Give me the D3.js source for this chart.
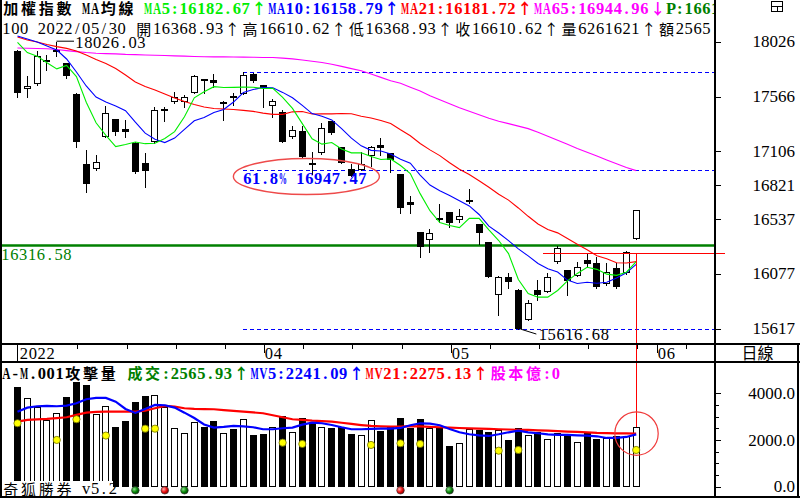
<!DOCTYPE html>
<html>
<head>
<meta charset="utf-8">
<script src="https://cdn.jsdelivr.net/npm/d3@7/dist/d3.min.js"></script>
<style>
html, body { margin: 0; padding: 0; background: #fff; overflow: hidden; }
svg { display: block; }
</style>
</head>
<body>
<svg id="chart" width="800" height="500"></svg>
<script>
// 加權指數 2022/02/24 - 2022/05/30
const opens  = [17948,17627,17669,17865,17950,17845,17587,16998,16956,17229,17375,17291,17179,17006,17182,17455,17518,17523,17595,17712,17705,17516,17570,17587,17755,17663,17489,17439,17224,17277,17010,17090,17361,17141,16956,16950,17068,17160,17090,16917,16679,16428,16363,16545,16595,16531,16690,16497,16344,15902,16051,15944,15692,15944,15930,16181,16112,16061,16196,16168,15992,16126,16084,16368.93];
const highs  = [17960,17738,17948,17915,18026.03,17850,17600,17118,17076,17487,17380,17369,17185,17090,17481,17481,17607,17579,17745,17714,17755,17525,17595,17770.06,17762,17665,17543,17453,17319,17319,17101,17347,17365,17145,17000,17104,17150,17216,17092,16920,16732,16430,16453,16665,16600,16621,16788,16500,16350,16060,16084,15950,15860,16028,16084,16313,16115,16181,16252,16223,16173,16168,16270,16610.62];
const lows   = [17565,17565,17660,17790,17910,17719,17146,16768,16950,17225,17244,17224,16923,16810,17180,17364,17515,17481,17592,17598,17649,17369,17495,17585,17690,17481,17392,17185,17220,17057,16917,17088,17250,17005,16900,16947,16986,17076,16933,16587,16587,16223,16265,16517,16475,16517,16671,16330,16050,15734,15958,15616.68,15690,15860,15928,16168,15902,16058,16139,15962,15988,15958,16080,16368.93];
const closes = [17598,17655,17906,17873,17958,17741,17188,16830,17015,17431,17271,17271,16936,16944,17453,17465,17560,17560,17738,17706,17682,17523,17565,17749,17699,17635,17529,17188,17286,17059,17000,17300,17258,17011,16902,17000,17146,17132,17034,16629,16657,16307,16419,16540,16503,16565,16700,16419,16056,16056,16014,15617,15832,15902,16056,16294,16022,16139,16162,15967,16097,15972,16265,16610.62];

const ma5  = [18020,17935,17905,17850,17798,17827,17733,17518,17346,17241,17147,17164,17185,17171,17175,17214,17272,17396,17555,17606,17649,17642,17643,17645,17644,17634,17635,17560,17467,17339,17212,17167,17181,17126,17094,17094,17063,17038,17043,16988,16920,16752,16609,16510,16485,16467,16545,16545,16449,16359,16249,16032,15915,15884,15884,15940,16021,16083,16135,16117,16077,16067,16093,16182.67];
const ma10 = [18073,18048,18023,17990,17956,17881,17772,17655,17562,17520,17487,17448,17351,17259,17208,17180,17218,17291,17363,17390,17432,17457,17520,17600,17625,17642,17639,17601,17556,17492,17423,17401,17370,17297,17217,17153,17115,17109,17084,17041,17007,16908,16824,16777,16737,16693,16649,16577,16480,16422,16358,16289,16230,16166,16122,16095,16027,15999,16009,16001,16009,16044,16088,16158.79];
const ma21 = [18065,18040,18023,18002,17985,17970,17948,17914,17877,17843,17801,17747,17688,17650,17621,17587,17554,17525,17500,17479,17466,17462,17458,17450,17442,17427,17417,17417,17438,17441,17420,17421,17421,17424,17422,17401,17386,17365,17340,17287,17237,17172,17119,17071,17011,16957,16913,16860,16806,16747,16698,16632,16562,16497,16452,16423,16376,16328,16282,16231,16206,16173,16171,16181.72];
const ma65 = [17973,17971,17969,17967,17960,17951,17943,17935,17929,17926,17924,17920,17918,17915,17913,17910,17907,17905,17902,17900,17899,17899,17898,17897,17896,17894,17893,17888,17882,17872,17862,17851,17837,17819,17800,17782,17755,17727,17699,17677,17645,17613,17573,17539,17506,17473,17443,17414,17384,17359,17339,17318,17297,17267,17234,17199,17166,17131,17099,17067,17035,17003,16971,16944.96];

// 攻擊量 (億)
const volumes = [4273,3788,3429,2859,3146,3845,4487,4359,3103,3459,2559,2816,3630,3887,3930,3403,2530,2301,2760,2559,2816,2287,2473,2902,2216,2259,2559,3030,2358,2945,2787,2545,2500,2571,2259,2202,2859,2400,2601,2944,2500,2900,2500,2500,1744,1860,2460,2430,2344,2430,2000,2500,2216,2358,2030,2287,2259,1900,2287,2044,2073,2187,2187,2565.93];
const mv5  = [3214,3386,3446,3459,3446,3471,3574,3746,3801,3801,3643,3330,3159,3330,3501,3489,3386,3171,2944,2666,2529,2559,2601,2580,2546,2460,2460,2503,2529,2657,2743,2717,2644,2546,2460,2460,2473,2486,2486,2516,2630,2716,2701,2630,2473,2330,2245,2202,2173,2245,2330,2401,2330,2288,2245,2216,2216,2202,2187,2159,2087,2087,2130,2241.09];
const mv21 = [2786,2859,2880,2902,2940,2974,3073,3171,3201,3214,3214,3214,3214,3257,3360,3459,3429,3360,3330,3320,3317,3280,3244,3214,3180,3146,3060,2974,2889,2860,2829,2810,2786,2740,2687,2640,2601,2586,2575,2571,2590,2580,2565,2545,2530,2515,2500,2490,2475,2460,2450,2440,2430,2415,2400,2380,2360,2345,2325,2305,2295,2285,2280,2275.13];
const dotIdx = [0,4,6,9,13,14,27,29,36,39,41,49,51,63];
const dotVol = [2717,2002,2889,2190,2486,2486,1886,1830,1787,1860,1830,1543,1573,1573];
const greenBallIdx = [12,17,44];
const redBallIdx = [15,39];

const priceTicks = [18026,17566,17106,16821,16537,16077,15617];
const volTicks = [0,500,1000,1500,2000,2500,3000,3500,4000];
const volLabels = [4000,2000,0];
const monthIdx = [0,25,44,65];
const monthLabels = ['2022','04','05','06'];
const weekIdx = [6,11,16,21,29,34,39,48,53,58,63,68];

const fibFrom = 23;
const fibLevels = [17770.06,16947.47,15616.68];
const fibLabel = '61.8% 16947.47';
const hLine = 16316.58;
const cursorPrice = 16252, cursorIdx = 63, cursorFrom = 53.5, cursorTo = 72;

const CW = 8.86;
const LAT = "'Liberation Serif','DejaVu Serif',serif";
const CJK = "'Noto Sans CJK TC','Noto Sans CJK SC',sans-serif";
const GREEN = '#00ee00', BLUE = '#0000ff', RED = '#ff0000', MAG = '#ff00ff', DKGREEN = '#008000';

class kChart {
  constructor(){
    this.svg;
    this.x;
    this.y;
    this.yv;
    this.data;
  }
  init(element){
    let $this = this;
    $this.svg  = d3.select(element);
    $this.x    = d3.scaleLinear().domain([0, 63]).range([17.5, 636.2]);
    $this.y    = d3.scaleLinear().domain([15617, 18026]).range([329, 41.7]);
    $this.yv   = d3.scaleLinear().domain([0, 4000]).range([486.7, 393.3]);
    $this.data = opens.map((o, i) => ({i: i, o: o, h: highs[i], l: lows[i], c: closes[i], v: volumes[i]}));

    let defs = $this.svg.append('defs');
    defs.append('clipPath').attr('id', 'clipTop').append('rect')
      .attr('x', 2).attr('y', 0).attr('width', 712).attr('height', 343);
    defs.append('clipPath').attr('id', 'clipVol').append('rect')
      .attr('x', 2).attr('y', 363).attr('width', 712).attr('height', 133);
    [['ballG', '#8fe08f', '#0a8a0a', '#003c00'], ['ballR', '#ffb0b0', '#ee1010', '#7a0000']].forEach(b => {
      let gr = defs.append('radialGradient').attr('id', b[0]).attr('cx', '35%').attr('cy', '35%').attr('r', '70%');
      gr.append('stop').attr('offset', '0%').attr('stop-color', b[1]);
      gr.append('stop').attr('offset', '55%').attr('stop-color', b[2]);
      gr.append('stop').attr('offset', '100%').attr('stop-color', b[3]);
    });
  }
  // monospaced cell layout like the terminal font: half width = 1 cell, CJK/arrows = 2 cells
  cells(g, x0, y, segs, weight){
    let pos = 0, items = [];
    segs.forEach(s => {
      Array.from(s[0]).forEach(ch => {
        let wide = ch.charCodeAt(0) > 0x2000;
        items.push({ch: ch, c: s[1], p: pos, wide: wide});
        pos += wide ? 2 : 1;
      });
    });
    g.append('g').selectAll('text')
      .data(items.filter(d => d.ch !== ' '))
      .join('text')
      .attr('x', d => x0 + (d.p + (d.wide ? 1 : 0.5)) * CW)
      .attr('y', d => d.wide ? y + 0.6 : y)
      .attr('text-anchor', 'middle')
      .attr('font-family', d => d.wide ? CJK : LAT)
      .attr('font-size', d => d.wide ? 15 : 16.5)
      .attr('font-weight', weight || 'normal')
      .attr('fill', d => d.c)
      .attr('textLength', d => /[MAVW%]/.test(d.ch) ? 8.2 : null)
      .attr('lengthAdjust', 'spacingAndGlyphs')
      .text(d => d.ch);
  }
  price(){
    let $this = this, x = $this.x, y = $this.y;
    let g = $this.svg.append('g').attr('clip-path', 'url(#clipTop)');

    g.append('g').selectAll('line').data(fibLevels).join('line')
      .attr('x1', x(fibFrom)).attr('x2', 715)
      .attr('y1', d => Math.round(y(d)) + 0.5).attr('y2', d => Math.round(y(d)) + 0.5)
      .attr('stroke', BLUE).attr('stroke-dasharray', '4,3').attr('shape-rendering', 'crispEdges');

    g.append('line')
      .attr('x1', 2).attr('x2', 715).attr('y1', y(hLine)).attr('y2', y(hLine))
      .attr('stroke', DKGREEN).attr('stroke-width', 2.5);

    let bx = i => Math.round(x(i) - 3.5);
    let cg = g.append('g').attr('shape-rendering', 'crispEdges');
    cg.selectAll('line.wick').data($this.data).join('line')
      .attr('class', 'wick')
      .attr('x1', d => bx(d.i) + 3.5).attr('x2', d => bx(d.i) + 3.5)
      .attr('y1', d => Math.round(y(d.h))).attr('y2', d => Math.round(y(d.l)) + 1)
      .attr('stroke', '#000');
    cg.selectAll('rect.body').data($this.data.filter(d => Math.round(y(Math.min(d.o, d.c))) - Math.round(y(Math.max(d.o, d.c))) >= 2)).join('rect')
      .attr('class', 'body')
      .attr('x', d => d.c >= d.o ? bx(d.i) + 0.5 : bx(d.i))
      .attr('y', d => Math.round(y(Math.max(d.o, d.c))) + (d.c >= d.o ? 0.5 : 0))
      .attr('width', d => d.c >= d.o ? 6 : 7)
      .attr('height', d => Math.round(y(Math.min(d.o, d.c))) - Math.round(y(Math.max(d.o, d.c))) - (d.c >= d.o ? 1 : 0))
      .attr('fill', d => d.c >= d.o ? '#fff' : '#000')
      .attr('stroke', d => d.c >= d.o ? '#000' : 'none');
    cg.selectAll('rect.doji').data($this.data.filter(d => Math.round(y(Math.min(d.o, d.c))) - Math.round(y(Math.max(d.o, d.c))) < 2)).join('rect')
      .attr('class', 'doji')
      .attr('x', d => bx(d.i))
      .attr('y', d => Math.round(y(Math.max(d.o, d.c))))
      .attr('width', 7)
      .attr('height', 2)
      .attr('fill', '#000');

    let line = d3.line().x((d, i) => x(i)).y(d => y(d));
    [[ma65, MAG], [ma21, RED], [ma10, BLUE], [ma5, GREEN]].forEach(m => {
      g.append('path').attr('d', line(m[0])).attr('fill', 'none').attr('stroke', m[1]).attr('stroke-width', 1.1);
    });

    // highest / lowest marks
    let hiI = highs.indexOf(d3.max(highs)), loI = lows.indexOf(d3.min(lows));
    g.append('path')
      .attr('d', 'M' + (bx(hiI) + 3.5) + ',' + (y(highs[hiI]) - 0.5) + 'H' + (bx(hiI) + 21))
      .attr('stroke', '#000').attr('fill', 'none');
    $this.cells($this.svg, bx(hiI) + 22, y(highs[hiI]) + 6, [[highs[hiI].toFixed(2), '#000']]);
    g.append('path')
      .attr('d', 'M' + (x(loI) + 2) + ',' + y(lows[loI]) + 'L' + (x(loI) + 18) + ',' + (y(lows[loI]) + 5))
      .attr('stroke', '#000').attr('fill', 'none');
    $this.cells($this.svg, x(loI) + 20, y(lows[loI]) + 11, [[lows[loI].toFixed(2), '#000']]);

    $this.cells($this.svg, 1, y(hLine) + 14.5, [[hLine.toFixed(2), DKGREEN]]);

    $this.cells($this.svg, x(fibFrom) - 0.5, y(fibLevels[1]) + 13.3, [[fibLabel, BLUE]], 'bold');
    $this.svg.append('ellipse')
      .attr('cx', x(fibFrom) + 63).attr('cy', y(fibLevels[1]) + 6.2)
      .attr('rx', 73).attr('ry', 18)
      .attr('fill', 'none').attr('stroke', '#ee4a4a').attr('stroke-width', 1.4);

    // cursor
    $this.svg.append('line')
      .attr('x1', x(cursorFrom)).attr('x2', x(cursorTo))
      .attr('y1', Math.round(y(cursorPrice)) + 0.5).attr('y2', Math.round(y(cursorPrice)) + 0.5)
      .attr('stroke', RED).attr('shape-rendering', 'crispEdges');
    $this.svg.append('line')
      .attr('x1', bx(cursorIdx) + 3.5).attr('x2', bx(cursorIdx) + 3.5)
      .attr('y1', y(cursorPrice)).attr('y2', $this.yv(volumes[cursorIdx]))
      .attr('stroke', RED).attr('shape-rendering', 'crispEdges');
  }
  volume(){
    let $this = this, x = $this.x, yv = $this.yv;
    let g = $this.svg.append('g').attr('clip-path', 'url(#clipVol)');
    let bx = i => Math.round(x(i) - 3.5);
    let base = Math.round(yv(0));
    g.append('g').attr('shape-rendering', 'crispEdges')
      .selectAll('rect').data($this.data).join('rect')
      .attr('x', d => d.c >= d.o ? bx(d.i) + 0.5 : bx(d.i))
      .attr('y', d => Math.round(yv(d.v)) + (d.c >= d.o ? 0.5 : 0))
      .attr('width', d => d.c >= d.o ? 6 : 7)
      .attr('height', d => base - Math.round(yv(d.v)) - (d.c >= d.o ? 1 : 0))
      .attr('fill', d => d.c >= d.o ? '#fff' : '#000')
      .attr('stroke', d => d.c >= d.o ? '#000' : 'none');

    let line = d3.line().x((d, i) => x(i)).y(d => yv(d));
    [[mv21, RED], [mv5, BLUE]].forEach(m => {
      g.append('path').attr('d', line(m[0])).attr('fill', 'none').attr('stroke', m[1]).attr('stroke-width', 2.2);
    });

    g.append('g').selectAll('circle').data(dotIdx).join('circle')
      .attr('cx', d => x(d)).attr('cy', (d, k) => yv(dotVol[k])).attr('r', 3.6)
      .attr('fill', '#ffff00').attr('stroke', '#6e6e00').attr('stroke-width', 0.8);

    // label box at bottom left
    $this.svg.append('rect').attr('x', 2).attr('y', 481).attr('width', 111).attr('height', 14.5).attr('fill', '#fff');
    $this.cells($this.svg, 2, 494, [['奇狐勝券 v5.2', '#000']]);

    g.append('g').selectAll('circle').data(greenBallIdx.map(i => [i, 'ballG']).concat(redBallIdx.map(i => [i, 'ballR']))).join('circle')
      .attr('cx', d => x(d[0])).attr('cy', yv(0) + 3.6).attr('r', 3.8)
      .attr('fill', d => 'url(#' + d[1] + ')').attr('stroke', '#333').attr('stroke-width', 0.6);

    $this.svg.append('circle')
      .attr('cx', bx(cursorIdx) + 3.5).attr('cy', yv(mv21[cursorIdx]))
      .attr('r', 21.7).attr('fill', 'none').attr('stroke', '#f03a3a').attr('stroke-width', 1.2);
  }
  axes(){
    let $this = this, svg = $this.svg, x = $this.x;
    let fr = svg.append('g').attr('stroke', '#000').attr('shape-rendering', 'crispEdges');
    fr.append('line').attr('x1', 1).attr('x2', 1).attr('y1', 0).attr('y2', 497).attr('stroke-width', 2);
    fr.append('line').attr('x1', 715).attr('x2', 715).attr('y1', 0).attr('y2', 497).attr('stroke-width', 2);
    fr.append('line').attr('x1', 798).attr('x2', 798).attr('y1', 343).attr('y2', 497).attr('stroke-width', 2);
    fr.append('line').attr('x1', 0).attr('x2', 800).attr('y1', 344).attr('y2', 344).attr('stroke-width', 2);
    fr.append('line').attr('x1', 0).attr('x2', 800).attr('y1', 362).attr('y2', 362).attr('stroke-width', 2);
    fr.append('line').attr('x1', 0).attr('x2', 800).attr('y1', 496.5).attr('y2', 496.5).attr('stroke-width', 2);

    // price axis
    fr.selectAll('line.pt').data(priceTicks).join('line').attr('class', 'pt')
      .attr('x1', 716).attr('x2', 721)
      .attr('y1', d => Math.round($this.y(d)) + 0.5).attr('y2', d => Math.round($this.y(d)) + 0.5);
    svg.append('g').selectAll('text').data(priceTicks).join('text')
      .attr('x', 795).attr('y', d => $this.y(d) + 5.3)
      .attr('text-anchor', 'end').attr('font-family', LAT).attr('font-size', 17)
      .text(d => d);

    // volume axis
    fr.selectAll('line.vt').data(volTicks).join('line').attr('class', 'vt')
      .attr('x1', 716).attr('x2', d => volLabels.indexOf(d) >= 0 ? 721 : 719)
      .attr('y1', d => Math.round($this.yv(d)) + 0.5).attr('y2', d => Math.round($this.yv(d)) + 0.5);
    svg.append('g').selectAll('text').data(volLabels).join('text')
      .attr('x', 795).attr('y', d => $this.yv(d) + 5.5)
      .attr('text-anchor', 'end').attr('font-family', LAT).attr('font-size', 17)
      .text(d => d.toFixed(1));

    // time axis
    fr.selectAll('line.wk').data(weekIdx).join('line').attr('class', 'wk')
      .attr('x1', d => Math.round(x(d)) + 1.5).attr('x2', d => Math.round(x(d)) + 1.5)
      .attr('y1', 345).attr('y2', 349);
    fr.selectAll('line.mo').data(monthIdx).join('line').attr('class', 'mo')
      .attr('x1', d => Math.round(x(d)) + (d === 0 ? -0.5 : 1.5)).attr('x2', d => Math.round(x(d)) + (d === 0 ? -0.5 : 1.5))
      .attr('y1', 345).attr('y2', (d, k) => k === 0 ? 361 : 353);
    monthIdx.forEach((d, k) => {
      $this.cells(svg, Math.round(x(d)) + 1.5, 358.5, [[monthLabels[k], '#000']]);
    });
    svg.append('text').attr('x', 757.5).attr('y', 359).attr('text-anchor', 'middle')
      .attr('font-family', CJK).attr('font-size', 16).text('日線');

    // window icon
    let ic = svg.append('g').attr('stroke', '#000').attr('fill', 'none').attr('shape-rendering', 'crispEdges');
    ic.append('rect').attr('x', 771.5).attr('y', 1.5).attr('width', 11).attr('height', 10);
    ic.append('line').attr('x1', 771.5).attr('x2', 782.5).attr('y1', 6.5).attr('y2', 6.5);
    ic.append('line').attr('x1', 777.5).attr('x2', 777.5).attr('y1', 6.5).attr('y2', 11.5);
  }
  header(){
    let $this = this;
    let g = $this.svg.append('g').attr('clip-path', 'url(#clipTop)');
    let n = closes.length - 1;
    $this.cells(g, 2, 13.8, [
      ['加權指數 MA均線 ', '#000'],
      ['MA5:' + ma5[n].toFixed(2) + '↑', GREEN],
      ['MA10:' + ma10[n].toFixed(2) + '↑', BLUE],
      ['MA21:' + ma21[n].toFixed(2) + '↑', RED],
      ['MA65:' + ma65[n].toFixed(2) + '↓', MAG],
      ['P:' + closes[n].toFixed(2), DKGREEN]
    ], 'bold');
    $this.cells(g, 2, 34, [
      ['100 2022/05/30 開' + opens[n].toFixed(2) + '↑高' + highs[n].toFixed(2) + '↑低' + lows[n].toFixed(2) +
       '↑收' + closes[n].toFixed(2) + '↑量6261621↑額' + volumes[n].toFixed(2), '#000']
    ]);
    $this.cells($this.svg, 2, 378.5, [
      ['A-M.001攻擊量 ', '#000'],
      ['成交:' + volumes[n].toFixed(2) + '↑', DKGREEN],
      ['MV5:' + mv5[n].toFixed(2) + '↑', BLUE],
      ['MV21:' + mv21[n].toFixed(2) + '↑', RED],
      ['股本億:0', MAG]
    ], 'bold');
  }
}

let chart = new kChart();
chart.init(document.getElementById('chart'));
chart.price();
chart.volume();
chart.axes();
chart.header();
</script>
</body>
</html>
